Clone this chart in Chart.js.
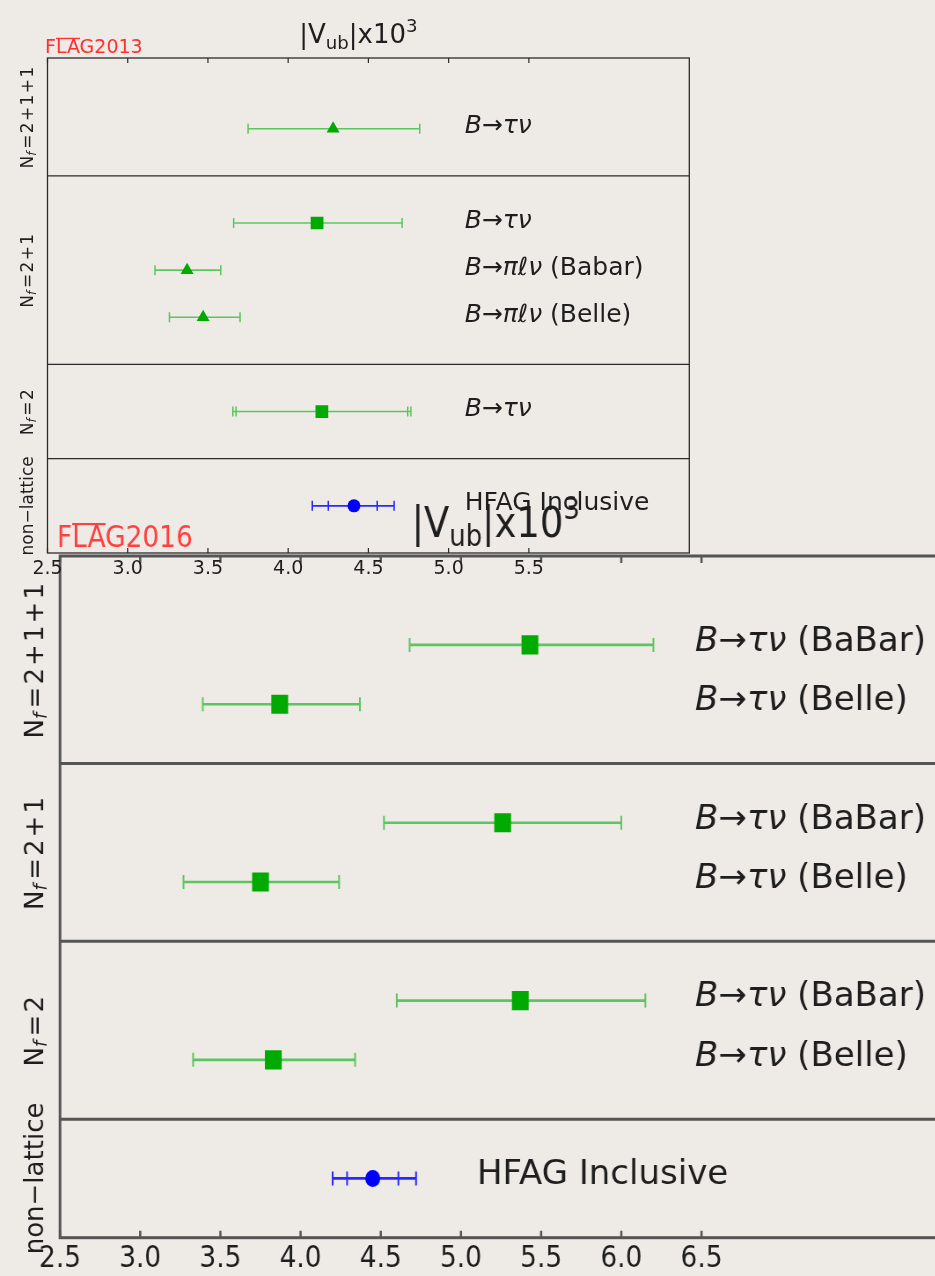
<!DOCTYPE html>
<html>
<head>
<meta charset="utf-8">
<script src="https://cdn.jsdelivr.net/npm/chart.js@4.4.1/dist/chart.umd.min.js"></script>
<style>
  html, body { margin: 0; padding: 0; width: 935px; height: 1276px; overflow: hidden; background: #eeebe6; }
  canvas { position: absolute; left: 0; }
  #c2016 { top: 470px; transform: scaleX(0.88); transform-origin: 0 0; filter: blur(0.5px); }
  #c2013 { top: 0; }
</style>
</head>
<body>
<canvas id="c2016" width="1100" height="806"></canvas>
<canvas id="c2013" width="935" height="600"></canvas>
<script>
// ---- FLAG 2013: |Vub| x 10^3 ----
const ticks2013 = [2.5, 3.0, 3.5, 4.0, 4.5, 5.0, 5.5];
const groups2013 = ['N_f=2+1+1', 'N_f=2+1', 'N_f=2', 'non-lattice'];
const groupSizes2013 = [1, 3, 1, 1];
const labels2013 = ['B→τν', 'B→τν', 'B→πℓν (Babar)', 'B→πℓν (Belle)', 'B→τν', 'HFAG Inclusive'];
const vub2013 = [4.28, 4.18, 3.37, 3.47, 4.21, 4.41];
const low2013 = [3.75, 3.66, 3.17, 3.26, 3.655, 4.15];
const high2013 = [4.82, 4.71, 3.58, 3.70, 4.765, 4.66];
const statLow2013 = [null, null, null, null, 3.675, 4.25];
const statHigh2013 = [null, null, null, null, 4.745, 4.555];
const markers2013 = ['triangle', 'rect', 'triangle', 'triangle', 'rect', 'circle'];

// ---- FLAG 2016: |Vub| x 10^3 ----
const ticks2016 = [2.5, 3.0, 3.5, 4.0, 4.5, 5.0, 5.5, 6.0, 6.5];
const groups2016 = ['N_f=2+1+1', 'N_f=2+1', 'N_f=2', 'non-lattice'];
const groupSizes2016 = [2, 2, 2, 1];
const labels2016 = ['B→τν (BaBar)', 'B→τν (Belle)', 'B→τν (BaBar)', 'B→τν (Belle)',
                    'B→τν (BaBar)', 'B→τν (Belle)', 'HFAG Inclusive'];
const vub2016 = [5.43, 3.87, 5.26, 3.75, 5.37, 3.83, 4.45];
const low2016 = [4.68, 3.39, 4.52, 3.27, 4.60, 3.33, 4.20];
const high2016 = [6.20, 4.37, 6.00, 4.24, 6.15, 4.34, 4.72];
const statLow2016 = [null, null, null, null, null, null, 4.29];
const statHigh2016 = [null, null, null, null, null, null, 4.61];
const markers2016 = ['rect', 'rect', 'rect', 'rect', 'rect', 'rect', 'circle'];

const FAMILY = '"DejaVu Sans", "Liberation Sans", sans-serif';
const font = (size, style) => `${style || 'normal'} ${size}px ${FAMILY}`;

// Rows: every group gets one empty half-row above and below its entries.
function layoutRows(sizes) {
  const rows = [], seps = [], bounds = [], groupOf = [];
  let start = 0.5, prev = 0;
  sizes.forEach((n, g) => {
    for (let k = 1; k <= n; k++) { rows.push(start + k); groupOf.push(g); }
    start += n + 1;
    bounds.push([prev, start]);
    if (g < sizes.length - 1) seps.push(start);
    prev = start;
  });
  return { rows, seps, bounds, groupOf, max: start };
}

// "N_f=2+1+1" -> N, subscript f, then "=2+1+1" with small gaps
function groupParts(label, s, gap) {
  if (label.startsWith('N_f=')) {
    const parts = [
      { t: 'N', f: font(s) },
      { t: 'f', f: font(s * 0.7, 'italic'), dy: s * 0.22, gap: gap * 2 * s }
    ];
    label.slice(3).split('').forEach(ch => parts.push({ t: ch, f: font(s), gap: gap * s }));
    return parts;
  }
  return [{ t: label.replace('-', '\u2212'), f: font(s) }];
}

function labelParts(label, s) {
  if (!label.includes('→')) return [{ t: label, f: font(s) }];
  const i = label.indexOf(' (');
  const parts = [{ t: i < 0 ? label : label.slice(0, i), f: font(s, 'italic') }];
  if (i >= 0) parts.push({ t: label.slice(i), f: font(s) });
  return parts;
}

function titleParts(s) {
  return [
    { t: '|V', f: font(s) },
    { t: 'ub', f: font(s * 0.7), dy: s * 0.22 },
    { t: '|x10', f: font(s) },
    { t: '3', f: font(s * 0.7), dy: -s * 0.42 }
  ];
}

function richWidth(ctx, parts) {
  let w = 0;
  parts.forEach(p => { ctx.font = p.f; w += ctx.measureText(p.t).width + (p.gap || 0); });
  return w;
}
function drawRich(ctx, parts, x, y) {
  let cx = x;
  parts.forEach(p => {
    ctx.font = p.f;
    ctx.fillText(p.t, cx, y + (p.dy || 0));
    cx += ctx.measureText(p.t).width + (p.gap || 0);
  });
}

function makeFigure(id, d, st) {
  const lay = layoutRows(d.groupSizes);
  const colorOf = i => d.groups[lay.groupOf[i]] === 'non-lattice' ? st.blue : st.green;
  const errColorOf = i => d.groups[lay.groupOf[i]] === 'non-lattice' ? st.blueErr : st.greenErr;

  const datasets = [];
  // central values
  datasets.push({
    order: 0,
    data: d.vub.map((v, i) => ({ x: v, y: lay.rows[i] })),
    showLine: false,
    pointStyle: d.markers,
    pointRadius: d.markers.map(m => st.radius[m]),
    pointBackgroundColor: d.vub.map((v, i) => colorOf(i)),
    pointBorderWidth: 0
  });
  // statistical-error caps
  const statPts = [], statCols = [];
  d.statLow.forEach((v, i) => {
    if (v == null) return;
    statPts.push({ x: v, y: lay.rows[i] }, { x: d.statHigh[i], y: lay.rows[i] });
    statCols.push(errColorOf(i), errColorOf(i));
  });
  datasets.push({
    order: 1,
    data: statPts,
    showLine: false,
    pointStyle: 'line',
    pointRotation: 90,
    pointRadius: st.capR,
    pointBorderColor: statCols,
    pointBorderWidth: st.capWidth
  });
  // total-error bars with caps
  d.vub.forEach((v, i) => {
    datasets.push({
      order: 2,
      data: [{ x: d.low[i], y: lay.rows[i] }, { x: d.high[i], y: lay.rows[i] }],
      showLine: true,
      borderColor: errColorOf(i),
      borderWidth: st.errWidth,
      pointStyle: 'line',
      pointRotation: 90,
      pointRadius: st.capR,
      pointBorderColor: errColorOf(i),
      pointBorderWidth: st.capWidth
    });
  });

  const decor = {
    id: 'decor' + id,
    afterDraw(chart) {
      const { ctx, chartArea: a } = chart;
      const x = chart.scales.x, y = chart.scales.y;
      ctx.save();
      // frame and group separators
      ctx.strokeStyle = st.frameColor;
      ctx.lineWidth = st.frameWidth;
      ctx.strokeRect(a.left, a.top, a.right - a.left, a.bottom - a.top);
      ctx.beginPath();
      lay.seps.forEach(s => {
        const py = y.getPixelForValue(s);
        ctx.moveTo(a.left, py); ctx.lineTo(a.right, py);
      });
      ctx.stroke();
      // inward tick marks on top and bottom
      ctx.beginPath();
      x.ticks.forEach(t => {
        const px = x.getPixelForValue(t.value);
        ctx.moveTo(px, a.bottom); ctx.lineTo(px, a.bottom - st.tickLen);
        ctx.moveTo(px, a.top); ctx.lineTo(px, a.top + st.tickLen);
      });
      ctx.lineWidth = st.tickWidth;
      ctx.stroke();

      ctx.fillStyle = st.textColor;
      ctx.textBaseline = 'middle';
      ctx.textAlign = 'left';
      // entry labels
      d.labels.forEach((lab, i) => {
        const parts = labelParts(lab, st.labelSize);
        ctx.save();
        ctx.translate(x.getPixelForValue(st.labelAt(lab)), y.getPixelForValue(lay.rows[i]) + st.labelDy);
        ctx.scale(st.textStretch, 1);
        drawRich(ctx, parts, 0, 0);
        ctx.restore();
      });
      // group labels, rotated
      d.groups.forEach((g, k) => {
        const parts = groupParts(g, st.groupSize, st.groupGap);
        const w = richWidth(ctx, parts);
        const cy = y.getPixelForValue((lay.bounds[k][0] + lay.bounds[k][1]) / 2);
        ctx.save();
        ctx.translate(a.left - st.groupDx, cy);
        ctx.scale(st.textStretch, 1);
        ctx.rotate(-Math.PI / 2);
        drawRich(ctx, parts, -w / 2, 0);
        ctx.restore();
      });
      // title
      ctx.textBaseline = 'alphabetic';
      const tp = titleParts(st.titleSize);
      const tw = richWidth(ctx, tp);
      drawRich(ctx, tp, (a.left + a.right) / 2 - tw / 2 + st.titleShift, a.top - st.titleGap);
      // FLAG tag
      ctx.fillStyle = st.flagColor;
      ctx.font = font(st.flagSize);
      const fx = a.left + st.flagDx, fy = a.top - st.flagGap;
      ctx.fillText(d.tag, fx, fy);
      const wF = ctx.measureText('F').width, wLA = ctx.measureText('LA').width;
      ctx.fillRect(fx + wF, fy - st.flagSize * 0.8, wLA, Math.max(1, st.flagSize * 0.07));
      ctx.restore();
    }
  };

  return new Chart(document.getElementById(id), {
    type: 'scatter',
    data: { datasets },
    options: {
      responsive: false,
      animation: false,
      events: [],
      layout: { padding: st.padding },
      plugins: { legend: { display: false }, tooltip: { enabled: false } },
      scales: {
        x: {
          type: 'linear',
          min: st.xMin, max: st.xMax,
          afterBuildTicks: s => { s.ticks = d.ticks.map(v => ({ value: v })); },
          afterFit: s => { s.height = st.axisHeight; },
          grid: { display: false, drawTicks: false },
          border: { display: false },
          ticks: {
            autoSkip: false, maxRotation: 0, minRotation: 0,
            padding: st.tickPad,
            color: st.textColor,
            font: { family: FAMILY, size: st.tickSize },
            callback: v => Number(v).toFixed(1)
          }
        },
        y: { type: 'linear', display: false, reverse: true, min: 0, max: lay.max }
      }
    },
    plugins: [decor]
  });
}

// lower, larger panel (drawn first, underneath)
makeFigure('c2016', {
  tag: 'FLAG2016', ticks: ticks2016, groups: groups2016, groupSizes: groupSizes2016,
  labels: labels2016, vub: vub2016, low: low2016, high: high2016,
  statLow: statLow2016, statHigh: statHigh2016, markers: markers2016
}, {
  xMin: 2.5, xMax: 8.0,
  padding: { left: 68.2, right: 29.5, top: 86, bottom: 6.3 },
  axisHeight: 32, tickPad: 4, tickSize: 30, tickLen: 7, tickWidth: 2.5,
  frameColor: '#555555', frameWidth: 3,
  green: '#00aa00', greenErr: '#5cc65c', blue: '#0000ff', blueErr: '#2a2aff',
  radius: { rect: 13.5, circle: 8.5, triangle: 9 },
  capR: 7, capWidth: 2, errWidth: 2.6,
  textColor: '#1e1e1e', labelSize: 34, labelDy: -3, textStretch: 1 / 0.88,
  labelAt: lab => lab.startsWith('HFAG') ? 5.1 : 6.46,
  groupSize: 26, groupGap: 0.08, groupDx: 27.3,
  titleSize: 42, titleGap: 19, titleShift: -6,
  flagColor: '#ff4040', flagSize: 30, flagDx: -3.4, flagGap: 9
});

// upper, smaller panel (on top)
makeFigure('c2013', {
  tag: 'FLAG2013', ticks: ticks2013, groups: groups2013, groupSizes: groupSizes2013,
  labels: labels2013, vub: vub2013, low: low2013, high: high2013,
  statLow: statLow2013, statHigh: statHigh2013, markers: markers2013
}, {
  xMin: 2.5, xMax: 6.5,
  padding: { left: 47.5, right: 245.7, top: 58, bottom: 7 },
  axisHeight: 40, tickPad: 5, tickSize: 19, tickLen: 5, tickWidth: 1.2,
  frameColor: '#2b2b2b', frameWidth: 1.3,
  green: '#00aa00', greenErr: '#5cc65c', blue: '#0000ff', blueErr: '#2a2aff',
  radius: { rect: 9, circle: 6.5, triangle: 7.5 },
  capR: 5, capWidth: 1.5, errWidth: 1.6,
  textColor: '#1e1e1e', labelSize: 25, labelDy: -2, textStretch: 1,
  labelAt: () => 5.1,
  groupSize: 17, groupGap: 0.08, groupDx: 18.5,
  titleSize: 26, titleGap: 15, titleShift: -10,
  flagColor: '#ff3030', flagSize: 19, flagDx: -2.5, flagGap: 5
});
</script>
</body>
</html>
